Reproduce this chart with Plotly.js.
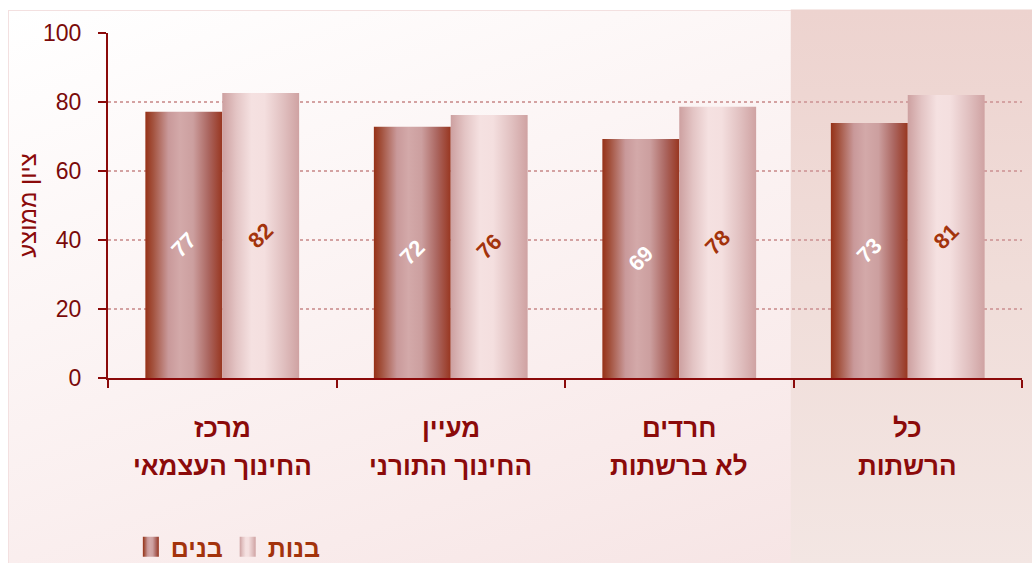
<!DOCTYPE html>
<html><head><meta charset="utf-8">
<script src="https://cdn.plot.ly/plotly-3.0.1.min.js"></script>
<style>
html,body{margin:0;padding:0;background:#fff;}
#wrap{position:relative;width:1032px;height:563px;overflow:hidden;}
#bg{position:absolute;left:8px;top:10px;width:1024px;height:553px;
 background:linear-gradient(160deg,#ffffff 0%,#fcf5f5 35%,#f9ebeb 70%,#f5e2e2 100%);
 border-top:1px solid #f3e0e0;border-left:1px solid #f3e0e0;}
#chart{position:absolute;left:0;top:0;width:1032px;height:563px;}
</style></head>
<body>
<div id="wrap"><div id="bg"></div><div id="chart"></div></div>
<script>
// Data
const catLine1 = ['מרכז', 'מעיין', 'חרדים', 'כל'];
const catLine2 = ['החינוך העצמאי', 'החינוך התורני', 'לא ברשתות', 'הרשתות'];
const categories = catLine1.map((a, i) => a + ' ' + catLine2[i]);
const boysValues = [77.2, 72.8, 69.3, 73.9];
const girlsValues = [82.6, 76.2, 78.6, 82.0];
const boysLabels = ['77', '72', '69', '73'];
const girlsLabels = ['82', '76', '78', '81'];
const seriesNames = ['בנים', 'בנות'];
const yTicks = [0, 20, 40, 60, 80, 100];
const yTitle = 'ציון ממוצע';

const FONT = 'Arial, "Liberation Sans", "DejaVu Sans", sans-serif';
const DARK = '#8b0a0a';

const traces = [
  {type:'bar', name:seriesNames[0], x:categories, y:boysValues, text:boysLabels,
   texttemplate:'%{text}', textposition:'inside', insidetextanchor:'middle', textangle:-45,
   constraintext:'none',
   textfont:{family:FONT, size:22, color:'#ffffff', weight:700},
   marker:{color:'#c08888', line:{width:0}}, hoverinfo:'skip'},
  {type:'bar', name:seriesNames[1], x:categories, y:girlsValues, text:girlsLabels,
   texttemplate:'%{text}', textposition:'inside', insidetextanchor:'middle', textangle:-45,
   constraintext:'none',
   textfont:{family:FONT, size:22, color:'#a3330c', weight:700},
   marker:{color:'#e8cccc', line:{width:0}}, hoverinfo:'skip'}
];

const annotations = [];
categories.forEach((c, i) => {
  annotations.push({x:c, xref:'x', yref:'paper', y:-0.145, text:catLine1[i], showarrow:false,
    yanchor:'middle', font:{family:FONT, size:26, color:DARK, weight:700}});
  annotations.push({x:c, xref:'x', yref:'paper', y:-0.255, text:catLine2[i], showarrow:false,
    yanchor:'middle', font:{family:FONT, size:26, color:DARK, weight:700}});
});

const layout = {
  width:1032, height:563,
  margin:{l:108, r:10, t:33, b:185, autoexpand:false},
  paper_bgcolor:'rgba(0,0,0,0)', plot_bgcolor:'rgba(0,0,0,0)',
  barmode:'group', bargap:0.327, bargroupgap:0,
  showlegend:true,
  legend:{orientation:'h', x:0.025, xanchor:'left', y:-0.49, yanchor:'middle',
    font:{family:FONT, size:25, color:'#a3330c', weight:700}, bgcolor:'rgba(0,0,0,0)',
    itemwidth:30, traceorder:'normal'},
  xaxis:{type:'category', showticklabels:false, tickson:'boundaries', ticks:'outside',
    ticklen:8, tickwidth:2, tickcolor:DARK, showline:true, linecolor:DARK, linewidth:2,
    showgrid:false, zeroline:false, fixedrange:true},
  yaxis:{range:[0,100], tickvals:yTicks, ticks:'outside', ticklen:8, tickwidth:2, tickcolor:DARK,
    showline:true, linecolor:DARK, linewidth:2, ticklabelstandoff:12,
    showgrid:true, gridcolor:'#d4a2a2', gridwidth:2, griddash:'dot', zeroline:false,
    tickfont:{family:FONT, size:23, color:'#7a0a0a'},
    title:{text:yTitle, font:{family:FONT, size:24, color:DARK}, standoff:0},
    automargin:false, fixedrange:true},
  shapes:[{type:'rect', xref:'paper', yref:'paper', x0:0.747, x1:1.02, y0:-0.54, y1:1.068,
    fillcolor:'#f0dcd8', line:{width:0}, layer:'below'}],
  annotations:annotations
};

Plotly.newPlot('chart', traces, layout, {displayModeBar:false, staticPlot:true}).then(gd => {
  const NS = 'http://www.w3.org/2000/svg';
  const svg = gd.querySelector('svg.main-svg');
  let defs = svg.querySelector('defs');
  function grad(id, stops, vertical) {
    const g = document.createElementNS(NS, 'linearGradient');
    g.setAttribute('id', id);
    g.setAttribute('x1', '0'); g.setAttribute('y1', '0');
    g.setAttribute('x2', vertical ? '0' : '1'); g.setAttribute('y2', vertical ? '1' : '0');
    stops.forEach(s => {
      const st = document.createElementNS(NS, 'stop');
      st.setAttribute('offset', s[0]); st.setAttribute('stop-color', s[1]);
      g.appendChild(st);
    });
    defs.appendChild(g);
  }
  grad('gBoys', [[0,'#963117'],[0.1,'#a3523e'],[0.3,'#c9999a'],[0.45,'#d3a9a9'],[0.62,'#cc9f9f'],[0.82,'#ab6660'],[1,'#983620']]);
  grad('gGirls', [[0,'#cda0a0'],[0.18,'#e3c4c4'],[0.38,'#f5e1e1'],[0.55,'#f4dfdf'],[0.8,'#e0bfbf'],[1,'#cfa2a2']]);
  grad('gShade', [[0,'#edd3cf'],[0.5,'#f0ddd9'],[1,'#f3e6e3']], true);
  const ids = ['gBoys', 'gGirls'];
  gd.querySelectorAll('g.trace.bars').forEach((t, i) => {
    t.querySelectorAll('.point path').forEach(p => { p.style.fill = 'url(#' + ids[i] + ')'; });
  });
  gd.querySelectorAll('.legend .traces').forEach((t, i) => {
    t.querySelectorAll('.legendpoints path').forEach(p => {
      p.style.fill = 'url(#' + ids[i] + ')';
      p.setAttribute('d', 'M8,10H-8V-10H8Z');
    });
  });
  gd.querySelectorAll('.shapelayer path').forEach(p => { p.style.fill = 'url(#gShade)'; p.style.fillOpacity = 1; });
});
</script>
</body></html>
